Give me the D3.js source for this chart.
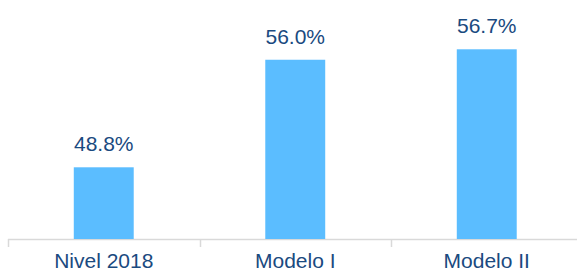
<!DOCTYPE html>
<html>
<head>
<meta charset="utf-8">
<script src="https://cdn.jsdelivr.net/npm/d3@7"></script>
<style>
  body { margin: 0; background: #fff; }
  text { font-family: Arial, "Liberation Sans", sans-serif; }
</style>
</head>
<body>
<script>
var categories = ["Nivel 2018", "Modelo I", "Modelo II"];
var values = [48.8, 56.0, 56.7];

var width = 577,
	height = 272,
	baseY = 239;

var svg = d3.select("body").append("svg")
	.attr("width", width)
	.attr("height", height);

var x = d3.scaleBand()
	.domain(categories)
	.range([8, 582.5])
	.paddingInner(0.687)
	.paddingOuter(0.3435);

var y = d3.scaleLinear()
	.domain([44, 60])
	.range([baseY, 0]);

var gap = (x.step() - x.bandwidth()) / 2;

// axis line + ticks at category boundaries
svg.append("line")
	.attr("x1", 8).attr("x2", width)
	.attr("y1", baseY + 0.5).attr("y2", baseY + 0.5)
	.style("stroke", "#d9d9d9")
	.style("stroke-width", 1.5);

svg.selectAll(".tick")
	.data(categories)
  .enter().append("line")
	.attr("class", "tick")
	.attr("x1", function(d) { return Math.round(x(d) - gap) + 0.5; })
	.attr("x2", function(d) { return Math.round(x(d) - gap) + 0.5; })
	.attr("y1", baseY)
	.attr("y2", baseY + 8)
	.style("stroke", "#d9d9d9")
	.style("stroke-width", 1.5);

var data = categories.map(function(c, i) { return {name: c, value: values[i]}; });

svg.selectAll(".bar")
	.data(data)
  .enter().append("rect")
	.attr("class", "bar")
	.attr("x", function(d) { return x(d.name); })
	.attr("y", function(d) { return y(d.value); })
	.attr("width", x.bandwidth())
	.attr("height", function(d) { return baseY - y(d.value); })
	.style("fill", "#5bbdff");

// value labels
svg.selectAll(".val")
	.data(data)
  .enter().append("text")
	.attr("class", "val")
	.attr("x", function(d) { return x(d.name) + x.bandwidth() / 2; })
	.attr("y", function(d) { return y(d.value) - 16; })
	.attr("text-anchor", "middle")
	.style("font-size", "21px")
	.style("fill", "#1a4a80")
	.text(function(d) { return d.value.toFixed(1) + "%"; });

// category labels
svg.selectAll(".cat")
	.data(categories)
  .enter().append("text")
	.attr("class", "cat")
	.attr("x", function(d) { return x(d) + x.bandwidth() / 2; })
	.attr("y", 267.5)
	.attr("text-anchor", "middle")
	.style("font-size", "21px")
	.style("fill", "#1a4a80")
	.text(function(d) { return d; });
</script>
</body>
</html>
